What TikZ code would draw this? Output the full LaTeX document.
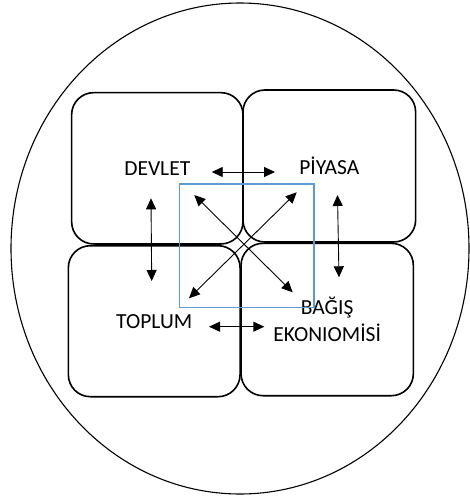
\documentclass[tikz,border=0pt]{standalone}
\usepackage{fontspec}
\setmainfont{Carlito}
\usetikzlibrary{arrows.meta,shapes.geometric}
\definecolor{frameblue}{RGB}{91,155,213}
\begin{document}
\begin{tikzpicture}[x=1pt,y=-1pt,
  quad/.style={draw, line width=1.6pt, rounded corners=22pt, inner sep=0pt, align=center,
    font=\fontsize{21.5}{26.5}\selectfont},
  link/.style={line width=0.9pt, {Triangle[length=11pt,width=10pt]}-{Triangle[length=11pt,width=10pt]}}]
\useasboundingbox (0,0) rectangle (469,498);
\node (outer) [ellipse, draw, line width=1.1pt, inner sep=0pt, minimum width=458pt, minimum height=491pt] at (240,248.5) {};
\node (devlet) [quad, minimum width=171.3pt, minimum height=151.3pt] at (157.3,168.3) {DEVLET};
\node (piyasa) [quad, minimum width=172.7pt, minimum height=152pt] at (329.3,166) {PİYASA};
\node (toplum) [quad, minimum width=171.7pt, minimum height=151pt] at (154.2,321.2) {TOPLUM};
\node (bagis) [quad, minimum width=172.3pt, minimum height=152.4pt] at (327.2,319.5) {BAĞIŞ\\EKONIOMİSİ};
\node (frame) [draw=frameblue, line width=1.3pt, inner sep=0pt, minimum width=134.5pt, minimum height=123.5pt] at (246.7,245.7) {};
\coordinate (t1) at (211.7,172);
\coordinate (t2) at (275,172);
\coordinate (b1) at (209,326.7);
\coordinate (b2) at (264.3,326.7);
\coordinate (l1) at (151,198.3);
\coordinate (l2) at (151.7,281);
\coordinate (r1) at (337.5,195);
\coordinate (r2) at (339,277.3);
\coordinate (d1) at (194.3,195);
\coordinate (d2) at (292.7,292.3);
\coordinate (e1) at (296.7,192.3);
\coordinate (e2) at (189,298.3);
\draw[link] (t1) -- (t2);
\draw[link] (b1) -- (b2);
\draw[link] (l1) -- (l2);
\draw[link] (r1) -- (r2);
\draw[link] (d1) -- (d2);
\draw[link] (e1) -- (e2);
\end{tikzpicture}
\end{document}
